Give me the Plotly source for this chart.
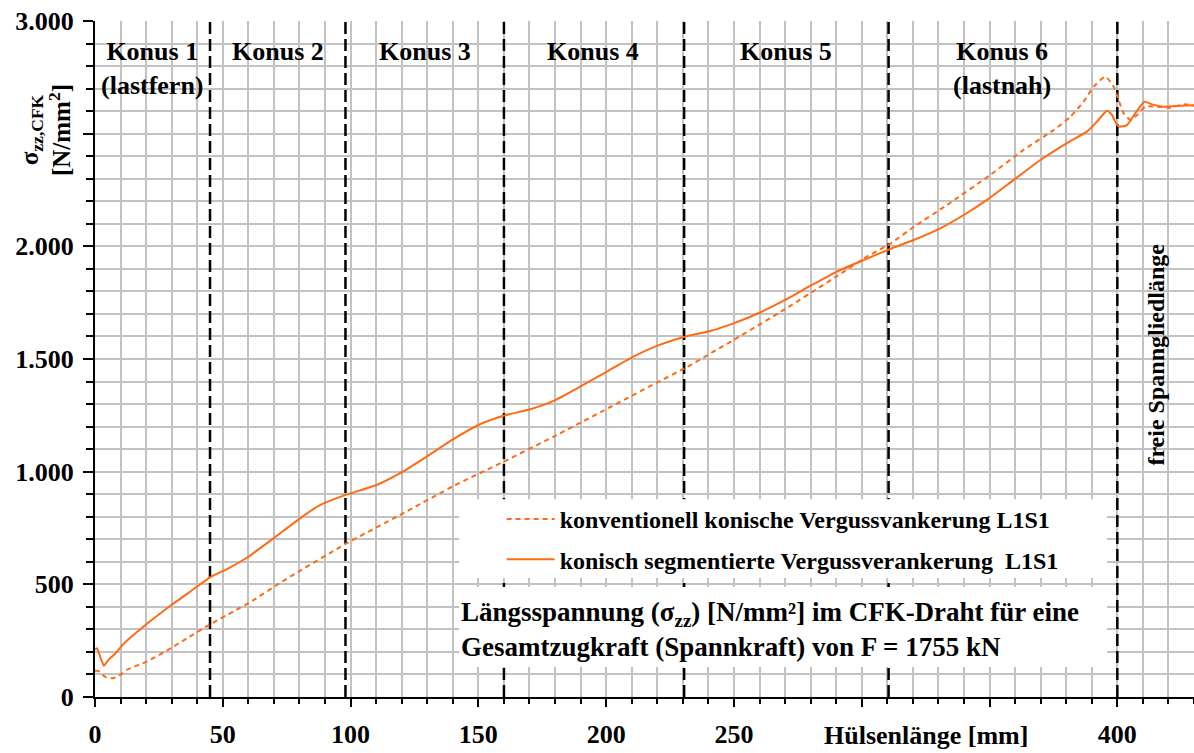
import plotly.graph_objects as go

# ---- data ----
seg_x = [0, 0.8, 2, 3.5, 5.2, 7.8, 11.1, 18.9, 29.4, 38.5, 45, 52, 59.4, 69.8, 80.2, 88, 97.8, 110.2, 119.4, 129.8,
         140.2, 150, 159.8, 170.3, 179.4, 189.8, 200.3, 209.4, 219.8, 230.7, 240.7, 249.8, 259.6, 270, 279.8, 290.3,
         300.7, 310.9, 320.3, 330.7, 339.9, 349, 359.4, 369.9, 381.6, 388.1, 392, 396, 397.9, 399.9, 400.9, 403.8,
         407, 410.6, 413.6, 418.1, 424.7, 430]
seg_y = [212, 216, 180, 138, 164, 191, 235, 312, 404, 478, 531, 570, 618, 704, 793, 852, 896, 941, 993, 1067,
         1144, 1207, 1248, 1277, 1314, 1377, 1444, 1503, 1558, 1599, 1624, 1658, 1703, 1762, 1824, 1888,
         1939, 1987, 2028, 2080, 2139, 2206, 2294, 2383, 2467, 2509, 2553, 2602, 2583, 2538, 2531, 2538,
         2590, 2642, 2630, 2620, 2624, 2626]

konv_x = [0, 1.3, 3.9, 7.2, 9.8, 12.4, 20.2, 28.1, 35.9, 44.7, 54.1, 62, 71.1, 80.2, 97.8, 119.4, 140.2, 159.8,
          179.4, 199, 219.8, 230.7, 249.8, 270, 290.3, 302, 310.9, 320.3, 333.3, 350.3, 363.3, 375.1, 381.6,
          386.8, 390.7, 395.3, 398.6, 400.5, 402.5, 405.1, 407.7, 411, 415.5, 420.7, 426, 430]
konv_y = [117, 116, 90, 83, 98, 120, 157, 206, 260, 320, 379, 430, 497, 560, 678, 808, 936, 1044,
          1155, 1271, 1395, 1459, 1584, 1721, 1868, 1954, 2010, 2086, 2183, 2317, 2428, 2516, 2575,
          2642, 2708, 2753, 2708, 2649, 2590, 2561, 2583, 2620, 2620, 2615, 2630, 2624]

boundaries = [45, 98, 160, 230.5, 310.5, 400]
konus_labels = ["Konus 1<br>(lastfern)", "Konus 2", "Konus 3", "Konus 4", "Konus 5", "Konus 6<br>(lastnah)"]
konus_centers = [22.5, 71.5, 129, 195, 270.5, 355]

x_tickvals = [0, 50, 100, 150, 200, 250, 300, 350, 400]
x_ticktext = ["0", "50", "100", "150", "200", "250", "", "", "400"]
y_tickvals = [0, 500, 1000, 1500, 2000, 2500, 3000]
y_ticktext = ["0", "500", "1.000", "1.500", "2.000", "", "3.000"]

ORANGE = "#ff6a13"
GRID = "#c2c2c2"
FONT = "Liberation Serif"

fig = go.Figure()
fig.add_trace(go.Scatter(x=konv_x, y=konv_y, mode="lines", name="konventionell konische Vergussvankerung L1S1",
                         line=dict(color=ORANGE, width=2, dash="5px,4px", shape="spline", smoothing=0.5),
                         legendgroup="a"))
fig.add_trace(go.Scatter(x=seg_x, y=seg_y, mode="lines", name="konisch segmentierte Vergussverankerung  L1S1",
                         line=dict(color=ORANGE, width=2, shape="spline", smoothing=0.5),
                         legendgroup="b"))

shapes = []
for b in boundaries:
    shapes.append(dict(type="line", xref="x", yref="y", x0=b, x1=b, y0=0, y1=3000, layer="between",
                       line=dict(color="black", width=2.5, dash="12px,5px")))
# white boxes (legend box and text box)
shapes.append(dict(type="rect", xref="x", yref="y", x0=142.5, x1=396, y0=528, y1=878, layer="between",
                   fillcolor="white", line=dict(width=0)))
shapes.append(dict(type="rect", xref="x", yref="y", x0=142.5, x1=396, y0=133, y1=488, layer="between",
                   fillcolor="white", line=dict(width=0)))

annotations = []
for lab, cx in zip(konus_labels, konus_centers):
    annotations.append(dict(x=cx, y=2940, xref="x", yref="y", text=lab, showarrow=False,
                            xanchor="center", yanchor="top", font=dict(size=26, family=FONT, color="black")))
annotations.append(dict(x=142.6, y=300, xref="x", yref="y", showarrow=False, xanchor="left", yanchor="middle",
                        align="left",
                        text="Längsspannung (σ<sub>zz</sub>) [N/mm²] im CFK-Draht für eine<br>Gesamtzugkraft (Spannkraft) von F = 1755 kN",
                        font=dict(size=27, family=FONT, color="black")))
annotations.append(dict(x=415, y=1518, xref="x", yref="y", showarrow=False, textangle=-90,
                        text="freie Spanngliedlänge", font=dict(size=24, family=FONT, color="black")))
annotations.append(dict(x=325, y=0, xref="x", yref="y", showarrow=False, yanchor="top", yshift=-22,
                        text="Hülsenlänge [mm]", font=dict(size=26, family=FONT, color="black")))
annotations.append(dict(x=0, y=2516, xref="paper", yref="y", showarrow=False, textangle=-90, xanchor="center",
                        yanchor="middle", xshift=-49,
                        text="σ<sub>zz,CFK</sub><br>[N/mm<sup>2</sup>]", font=dict(size=25, family=FONT, color="black")))

fig.update_layout(
    width=1194, height=753,
    margin=dict(l=95, r=0, t=21, b=56),
    paper_bgcolor="white", plot_bgcolor="white",
    font=dict(family=FONT, size=26, color="black", weight="bold"),
    showlegend=True,
    legend=dict(x=0.37, y=0.296, xanchor="left", yanchor="top", bgcolor="rgba(0,0,0,0)",
                font=dict(size=24, family=FONT, color="black", weight="bold"),
                tracegroupgap=6, itemwidth=48),
    shapes=shapes,
    annotations=annotations,
)
fig.update_xaxes(range=[0, 430], tickvals=x_tickvals, ticktext=x_ticktext,
                 showgrid=True, gridcolor=GRID, gridwidth=2,
                 showline=True, linecolor="black", linewidth=2,
                 ticks="outside", ticklen=8, tickwidth=2, tickcolor="black",
                 ticklabelstandoff=5, zeroline=False,
                 tickfont=dict(size=26, family=FONT, color="black", weight="bold"),
                 minor=dict(dtick=10, showgrid=True, gridcolor=GRID, gridwidth=2,
                            ticks="outside", ticklen=5, tickwidth=1.5, tickcolor="black"))
fig.update_yaxes(range=[0, 3000], tickvals=y_tickvals, ticktext=y_ticktext,
                 showgrid=True, gridcolor=GRID, gridwidth=2,
                 showline=True, linecolor="black", linewidth=2,
                 ticks="outside", ticklen=10, tickwidth=2, tickcolor="black",
                 ticklabelstandoff=4, zeroline=False,
                 tickfont=dict(size=26, family=FONT, color="black", weight="bold"),
                 minor=dict(dtick=100, showgrid=True, gridcolor=GRID, gridwidth=2,
                            ticks="outside", ticklen=7, tickwidth=1.5, tickcolor="black"))

fig.write_html("out.html")
